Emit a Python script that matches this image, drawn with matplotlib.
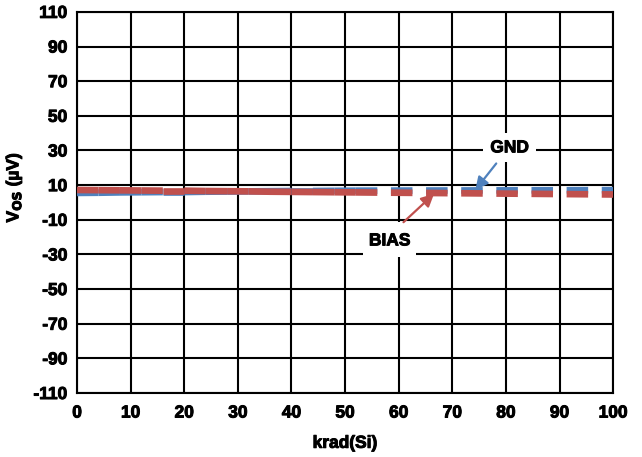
import matplotlib
matplotlib.use("Agg")
import matplotlib.pyplot as plt
import matplotlib.patheffects as pe
from matplotlib.patches import Rectangle

plt.rcParams['font.family'] = ['Liberation Sans', 'DejaVu Sans']
plt.rcParams['font.weight'] = 'bold'
plt.rcParams['axes.unicode_minus'] = False
plt.rcParams['lines.scale_dashes'] = False

# Total ionizing dose (krad(Si)) and input offset voltage (uV)
dose = [0, 4, 8, 12, 16, 20, 24, 28, 32, 36, 40, 44, 48, 52, 100]
vos_gnd = [5.5, 5.6, 5.8, 5.9, 6.0, 6.0, 6.2, 6.3, 6.4, 6.5, 6.6, 6.6, 6.7, 6.8, 7.1]
vos_bias = [7.2, 7.1, 7.0, 6.9, 6.8, 6.8, 6.6, 6.5, 6.4, 6.2, 6.1, 6.0, 5.9, 5.8, 4.6]

x_ticks = [0, 10, 20, 30, 40, 50, 60, 70, 80, 90, 100]
y_ticks = [110, 90, 70, 50, 30, 10, -10, -30, -50, -70, -90, -110]

blue = '#4f81bd'
red = '#c0504d'
heavy = [pe.withStroke(linewidth=0.7, foreground='black')]

fig = plt.figure(figsize=(6.42, 4.57), dpi=100)
ax = fig.add_axes([0.12, 0.14, 0.835, 0.834])

ax.set_xlim(0, 100)
ax.set_ylim(-110, 110)
ax.set_xticks(x_ticks)
ax.set_yticks(y_ticks)
ax.set_xticklabels([str(v) for v in x_ticks], fontsize=12.5, fontweight='bold')
ax.set_yticklabels([str(v) for v in y_ticks], fontsize=12.5, fontweight='bold')
for lab in ax.get_xticklabels() + ax.get_yticklabels():
    lab.set_path_effects(heavy)
ax.grid(True, color='black', linewidth=1.5)
ax.set_axisbelow(True)
for s in ax.spines.values():
    s.set_linewidth(1.5)
ax.tick_params(axis='x', length=0, pad=9)
ax.tick_params(axis='y', length=0, pad=7)

# each segment restarts its dash pattern, so short segments render solid
dash = (0, (15.5, 9.8))
for series, col in ((vos_gnd, blue), (vos_bias, red)):
    for i in range(len(dose) - 1):
        ax.plot(dose[i:i + 2], series[i:i + 2], color=col, linewidth=4.8,
                linestyle=dash, solid_capstyle='butt', dash_capstyle='butt',
                zorder=3)

ax.set_xlabel('krad(Si)', fontsize=12.5, fontweight='bold', labelpad=11,
              path_effects=heavy)
ax.set_ylabel(r'V$_{\mathbf{OS}}$ (µV)', fontsize=12.5, fontweight='bold',
              path_effects=heavy)
ax.yaxis.set_label_coords(-0.1, 0.54)

# GND label with arrow
ax.text(80.7, 31.5, 'GND', fontsize=12.5, fontweight='bold', ha='center',
        va='center', zorder=5, path_effects=heavy,
        bbox=dict(boxstyle='square,pad=0.4', fc='white', ec='none'))
ax.annotate('', xy=(74.3, 7.2), xytext=(78.2, 22.5),
            arrowprops=dict(arrowstyle='-|>', color=blue, lw=1.6,
                            mutation_scale=19, shrinkA=0, shrinkB=0),
            zorder=5)

# BIAS label with arrow
ax.add_patch(Rectangle((53.4, -31.6), 9.8, 20.3, fc='white', ec='none',
                       zorder=4))
ax.text(58.3, -22.2, 'BIAS', fontsize=12.5, fontweight='bold', ha='center',
        va='center', zorder=5, path_effects=heavy)
ax.annotate('', xy=(66.6, 5.0), xytext=(60.9, -11.4),
            arrowprops=dict(arrowstyle='-|>', color=red, lw=1.6,
                            mutation_scale=19, shrinkA=0, shrinkB=0),
            zorder=5)

fig.savefig('out.png', dpi=100)
